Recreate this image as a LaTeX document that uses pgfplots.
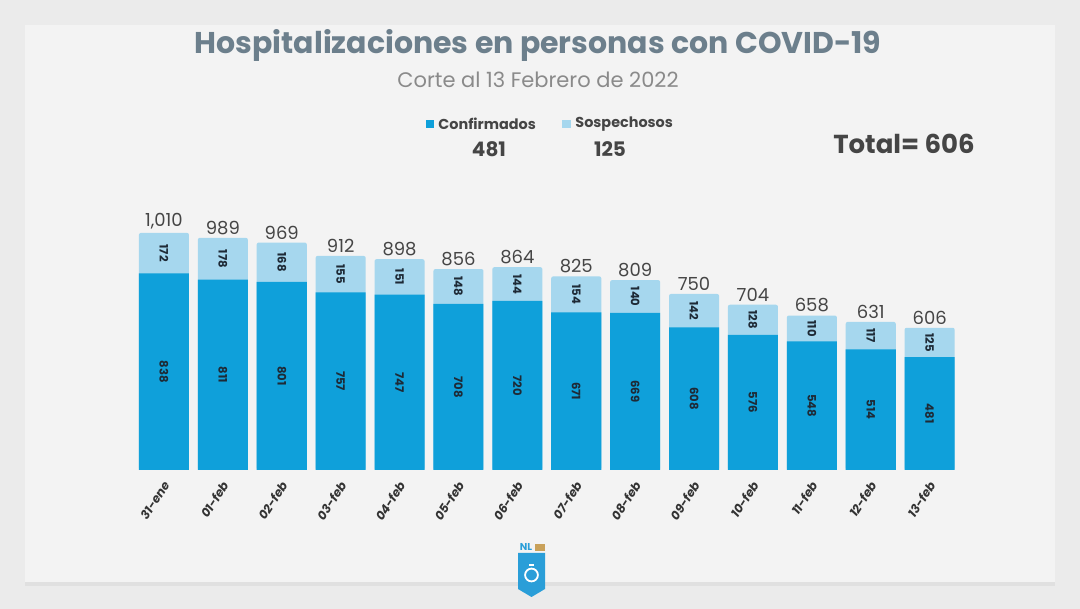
\documentclass[border=0pt]{standalone}
\usepackage{pgfplots}
\pgfplotsset{compat=1.18}
\usepackage{pgfplotstable}
\usepackage{fontspec}
\setmainfont{Poppins}
\definecolor{bgout}{HTML}{EBEBEB}
\definecolor{card}{HTML}{F3F3F3}
\definecolor{cblue}{HTML}{0FA0DA}
\definecolor{clight}{HTML}{A6D7EE}
\definecolor{titlec}{HTML}{6C7F8C}
\definecolor{subc}{HTML}{8A8A8A}
\definecolor{darkt}{HTML}{454545}
\definecolor{navy}{HTML}{1E2A36}
\definecolor{shield}{HTML}{2A9ED8}
\definecolor{gold}{HTML}{C9A15A}

\pgfplotstableread{
i c s t
0 838 172 1010
1 811 178 989
2 801 168 969
3 757 155 912
4 747 151 898
5 708 148 856
6 720 144 864
7 671 154 825
8 669 140 809
9 608 142 750
10 576 128 704
11 548 110 658
12 514 117 631
13 481 125 606
}\datatable

\begin{document}
\begin{tikzpicture}
% background
\fill[bgout] (0pt,0pt) rectangle (540pt,304.5pt);
\fill[black!12] (12.5pt,11.5pt) rectangle (527.5pt,14pt);
\fill[card] (12.5pt,13.5pt) rectangle (527.5pt,292pt);

\begin{axis}[
  at={(67.25pt,69.5pt)}, anchor=south west,
  scale only axis, width=412.3pt, height=129.1pt,
  xmin=-0.5, xmax=13.5, ymin=0, ymax=1100,
  axis line style={draw=none}, ytick=\empty,
  xtick={0,...,13},
  xticklabels={31-ene,01-feb,02-feb,03-feb,04-feb,05-feb,06-feb,07-feb,08-feb,09-feb,10-feb,11-feb,12-feb,13-feb},
  major tick length=0pt,
  x tick label style={rotate=57, anchor=east, font=\bfseries\itshape\fontsize{6.1}{6.1}\selectfont, text=black!80, xshift=-3.5pt, yshift=-4.5pt, inner sep=1pt},
  clip=false,
  /pgf/number format/assume math mode=true,
]
\addplot[ybar, bar width=0.85, bar shift=0pt, fill=clight, draw=none, rounded corners=1pt] table[x=i, y=t] {\datatable};
\addplot[ybar, bar width=0.85, bar shift=0pt, fill=cblue, draw=none] table[x=i, y=c] {\datatable};
% totals
\addplot[draw=none, nodes near coords, point meta=explicit,
  every node near coord/.style={anchor=south, font=\fontsize{9}{9}\selectfont, text=darkt, inner sep=1.5pt}]
  table[x=i, y=t, meta=t] {\datatable};
% confirmed labels
\addplot[draw=none, nodes near coords, point meta=explicit,
  every node near coord/.style={anchor=center, rotate=-90, font=\bfseries\fontsize{5.8}{5.8}\selectfont, text=navy}]
  table[x=i, y expr=\thisrow{c}/2, meta=c] {\datatable};
% suspected labels
\addplot[draw=none, nodes near coords, point meta=explicit,
  every node near coord/.style={anchor=center, rotate=-90, font=\bfseries\fontsize{5.8}{5.8}\selectfont, text=navy}]
  table[x=i, y expr=\thisrow{c}+\thisrow{s}/2, meta=s] {\datatable};
\end{axis}

% titles
\node[font=\bfseries\fontsize{15}{15}\selectfont, text=titlec] at (269pt,282pt) {Hospitalizaciones en personas con COVID-19};
\node[font=\fontsize{10.5}{10.5}\selectfont, text=subc] at (269pt,264.5pt) {Corte al 13 Febrero de 2022};
% legend
\fill[cblue] (213pt,240.5pt) rectangle (217pt,244.5pt);
\node[anchor=west, font=\bfseries\fontsize{7.2}{7.2}\selectfont, text=darkt, inner sep=0pt] at (219pt,242.5pt) {Confirmados};
\fill[clight] (281pt,240.5pt) rectangle (285.5pt,244.5pt);
\node[anchor=west, font=\bfseries\fontsize{7.2}{7.2}\selectfont, text=darkt, inner sep=0pt] at (287.5pt,242.5pt) {Sospechosos};
\node[font=\bfseries\fontsize{10}{10}\selectfont, text=darkt] at (244.5pt,230pt) {481};
\node[font=\bfseries\fontsize{10}{10}\selectfont, text=darkt] at (305pt,230pt) {125};
\node[font=\bfseries\fontsize{13}{13}\selectfont, text=darkt] at (452pt,232.5pt) {Total= 606};
% logo
\fill[shield] (259pt,28pt) -- (272.5pt,28pt) -- (272.5pt,10pt) -- (265.75pt,6pt) -- (259pt,10pt) -- cycle;
\node[font=\bfseries\fontsize{5}{5}\selectfont, text=shield, inner sep=0pt] at (263pt,31pt) {NL};
\fill[gold] (267.5pt,29pt) rectangle (272.5pt,32.5pt);
\draw[white, line width=0.9pt] (265.75pt,17pt) circle (3.2pt);
\draw[white, line width=0.9pt] (264.5pt,22pt) -- (267pt,22pt);
\end{tikzpicture}
\end{document}
